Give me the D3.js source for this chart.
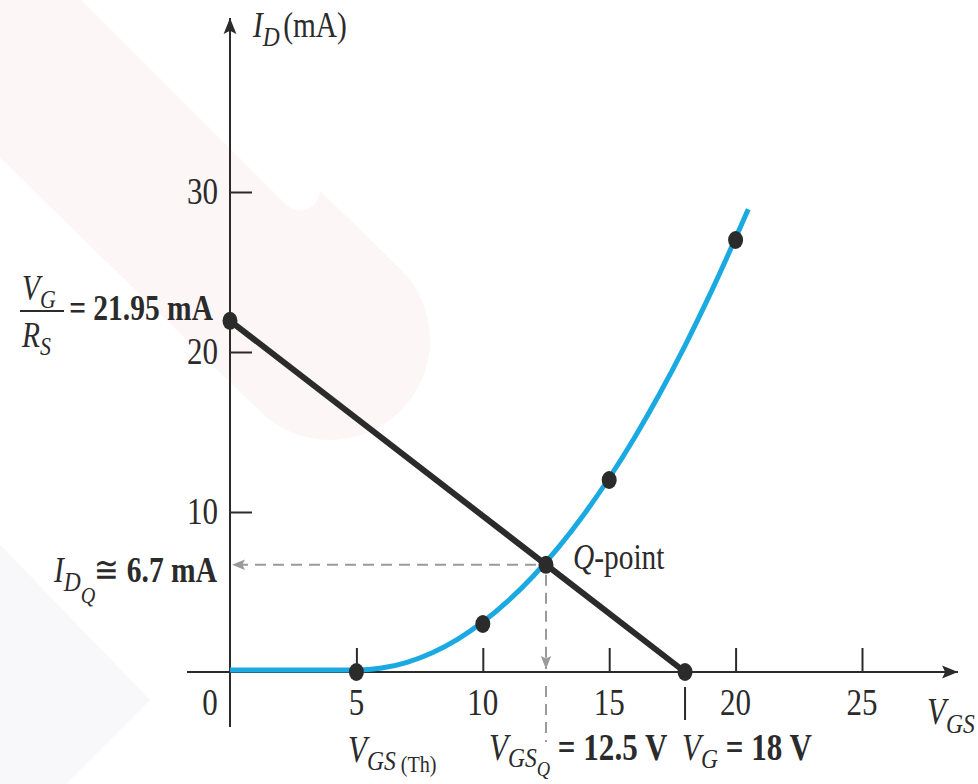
<!DOCTYPE html>
<html>
<head>
<meta charset="utf-8">
<script src="https://cdn.jsdelivr.net/npm/d3@7"></script>
<style>
  html, body { margin: 0; padding: 0; background: #ffffff; }
  svg { display: block; }
  svg text { font-family: 'Liberation Serif', 'DejaVu Serif', serif; fill: #2b2b2b; }
</style>
</head>
<body>
<svg id="chart" width="978" height="784"></svg>
<script>
// Axis ticks
const vgsTicks = [0, 5, 10, 15, 20, 25];
const idTicks = [10, 20, 30];

// JFET transfer characteristic (V_GS in volts, I_D in mA)
const transferVgs = [0, 5, 6, 7, 8, 9, 10, 11, 12, 13, 14, 15, 16, 17, 18, 19, 20, 20.5];
const transferId = [0, 0, 0.12, 0.48, 1.08, 1.92, 3.0, 4.32, 5.88, 7.68, 9.72, 12.0, 14.52, 17.28, 20.28, 23.52, 27.0, 28.8];

// Plotted points on the transfer curve
const dotVgs = [5, 10, 15, 20];
const dotId = [0, 3.0, 12.0, 27.0];

// Bias line endpoints: I_D = V_G/R_S at V_GS = 0, and V_GS = V_G at I_D = 0
const biasVgs = [0, 18];
const biasId = [21.95, 0];

// Operating point
const qVgs = 12.5;
const qId = 6.7;

const svg = d3.select("#chart");
const x = d3.scaleLinear().domain([0, 25]).range([230, 862]);
const y = d3.scaleLinear().domain([0, 30]).range([672, 192]);

const ink = "#2b2b2b";
const blue = "#1aa9e1";
const dashGrey = "#9a9a9a";
const serif = "'Liberation Serif', 'DejaVu Serif', serif";

// faint background wash
const bg = svg.append("g");
bg.append("path")
  .attr("d", "M-60,-40 L330,340")
  .attr("stroke", "#fdf6f6").attr("stroke-width", 200)
  .attr("stroke-linecap", "round").attr("fill", "none");
bg.append("path")
  .attr("d", "M70,-40 L300,190")
  .attr("stroke", "#ffffff").attr("stroke-width", 40)
  .attr("stroke-linecap", "round").attr("fill", "none");
bg.append("path")
  .attr("d", "M-120,420 L150,700 L-60,910 Z")
  .attr("fill", "#f8f8fa");

// rich text helper: parts with italic/bold/size/vertical shift
function rich(px, py, parts, opts = {}) {
  const size = opts.size || 34;
  const sx = opts.sx || 0.84;
  const t = svg.append("text")
    .attr("transform", `translate(${px},${py}) scale(${sx},1)`)
    .attr("text-anchor", opts.anchor || "start")
    .attr("font-family", serif)
    .attr("font-size", size);
  let cur = 0;
  parts.forEach(p => {
    const shift = p.dy || 0;
    t.append("tspan")
      .attr("dy", shift - cur)
      .attr("font-size", p.size || size)
      .attr("font-style", p.it ? "italic" : "normal")
      .attr("font-weight", p.b ? "bold" : "normal")
      .attr("dx", p.dx || 0)
      .text(p.t);
    cur = shift;
  });
  return t;
}

// arrowheads
const defs = svg.append("defs");
defs.append("marker").attr("id", "axisArrow")
  .attr("viewBox", "0 0 10 10").attr("refX", 10).attr("refY", 5)
  .attr("markerWidth", 16).attr("markerHeight", 16).attr("markerUnits", "userSpaceOnUse")
  .attr("orient", "auto")
  .append("path").attr("d", "M0,1 L10,5 L0,9 L2,5 Z").attr("fill", ink);
defs.append("marker").attr("id", "dashArrow")
  .attr("viewBox", "0 0 10 10").attr("refX", 10).attr("refY", 5)
  .attr("markerWidth", 13).attr("markerHeight", 13).attr("markerUnits", "userSpaceOnUse")
  .attr("orient", "auto")
  .append("path").attr("d", "M0,1 L10,5 L0,9 L2,5 Z").attr("fill", dashGrey);

// axes lines with arrows
svg.append("line")
  .attr("x1", x(0)).attr("y1", y(0) + 55).attr("x2", x(0)).attr("y2", 18)
  .attr("stroke", ink).attr("stroke-width", 2).attr("marker-end", "url(#axisArrow)");
svg.append("line")
  .attr("x1", x(0) - 43).attr("y1", y(0)).attr("x2", 958).attr("y2", y(0))
  .attr("stroke", ink).attr("stroke-width", 2).attr("marker-end", "url(#axisArrow)");

// y ticks (to the right of axis) via d3 axis
const yAxis = svg.append("g")
  .attr("transform", `translate(${x(0)},0)`)
  .call(d3.axisRight(y).tickValues(idTicks).tickSize(22).tickFormat(""));
yAxis.select(".domain").remove();
yAxis.selectAll(".tick line").attr("stroke", ink).attr("stroke-width", 2);

// x ticks (above the axis)
const xAxis = svg.append("g")
  .attr("transform", `translate(0,${y(0)})`)
  .call(d3.axisTop(x).tickValues(vgsTicks.filter(v => v > 0)).tickSize(24).tickFormat(""));
xAxis.select(".domain").remove();
xAxis.selectAll(".tick line").attr("stroke", ink).attr("stroke-width", 2);

// tick labels
idTicks.forEach(v => rich(x(0) - 12, y(v) + 12, [{ t: String(v) }], { anchor: "end", size: 37 }));
vgsTicks.forEach(v => rich(x(v) + (v === 0 ? -20 : 0), y(0) + 43, [{ t: String(v) }], { anchor: "middle", size: 37 }));

// V_G marker tick below the axis
svg.append("line")
  .attr("x1", x(biasVgs[1])).attr("x2", x(biasVgs[1]))
  .attr("y1", y(0) + 15).attr("y2", y(0) + 48)
  .attr("stroke", ink).attr("stroke-width", 2);

// dashed projections from the Q-point
svg.append("line")
  .attr("x1", x(qVgs) - 10).attr("y1", y(qId)).attr("x2", x(0) + 2).attr("y2", y(qId))
  .attr("stroke", dashGrey).attr("stroke-width", 2).attr("stroke-dasharray", "11,7")
  .attr("marker-end", "url(#dashArrow)");
svg.append("line")
  .attr("x1", x(qVgs)).attr("y1", y(qId) + 10).attr("x2", x(qVgs)).attr("y2", y(0) - 3)
  .attr("stroke", dashGrey).attr("stroke-width", 2).attr("stroke-dasharray", "11,7")
  .attr("marker-end", "url(#dashArrow)");
svg.append("line")
  .attr("x1", x(qVgs)).attr("y1", y(0) + 14).attr("x2", x(qVgs)).attr("y2", y(0) + 70)
  .attr("stroke", dashGrey).attr("stroke-width", 2).attr("stroke-dasharray", "11,7");

// transfer curve
const curve = d3.line()
  .x((d, i) => x(transferVgs[i]))
  .y((d, i) => y(transferId[i]) - 2)
  .curve(d3.curveMonotoneX);
svg.append("path")
  .datum(transferId)
  .attr("d", curve)
  .attr("fill", "none").attr("stroke", blue).attr("stroke-width", 5);

// bias line
svg.append("line")
  .attr("x1", x(biasVgs[0])).attr("y1", y(biasId[0]))
  .attr("x2", x(biasVgs[1])).attr("y2", y(biasId[1]))
  .attr("stroke", ink).attr("stroke-width", 6);

// dots
const dots = dotVgs.map((v, i) => [v, dotId[i]])
  .concat(biasVgs.map((v, i) => [v, biasId[i]]))
  .concat([[qVgs, qId]]);
svg.selectAll("ellipse.pt").data(dots).enter().append("ellipse")
  .attr("class", "pt")
  .attr("cx", d => x(d[0])).attr("cy", d => y(d[1]))
  .attr("rx", 7.5).attr("ry", 9)
  .attr("fill", ink);

// axis titles
rich(253, 37, [{ t: "I", it: true }, { t: "D", it: true, dy: 9, size: 28 }, { t: "(mA)", dy: 0, dx: 4 }], { size: 35 });
rich(927, 724, [{ t: "V", it: true }, { t: "GS", it: true, dy: 9, size: 28 }], { size: 37 });

// V_G / R_S = 21.95 mA
rich(22, 300, [{ t: "V", it: true }, { t: "G", it: true, dy: 8, size: 26 }], { size: 35 });
svg.append("line").attr("x1", 20).attr("x2", 64).attr("y1", 311).attr("y2", 311)
  .attr("stroke", ink).attr("stroke-width", 2);
rich(22, 347, [{ t: "R", it: true }, { t: "S", it: true, dy: 8, size: 26 }], { size: 35 });
rich(213, 320, [{ t: "= ", b: true }, { t: "21.95 mA", b: true }], { anchor: "end", size: 36, sx: 0.82 });

// I_DQ ≅ 6.7 mA
rich(54, 582, [{ t: "I", it: true }, { t: "D", it: true, dy: 9, size: 28 }, { t: "Q", it: true, dy: 21, size: 24 }], { size: 35 });
rich(217, 582, [{ t: "≅ " }, { t: "6.7 mA", b: true }], { anchor: "end", size: 36, sx: 0.82 });

// Q-point label
rich(573, 569, [{ t: "Q", it: true }, { t: "-point" }], { size: 35 });

// bottom annotations
rich(348, 762, [{ t: "V", it: true }, { t: "GS", it: true, dy: 8, size: 28 }, { t: " (Th)", dy: 10, size: 24 }], { size: 37 });
rich(489, 760, [{ t: "V", it: true }, { t: "GS", it: true, dy: 7, size: 28 }, { t: "Q", it: true, dy: 16, size: 22 },
  { t: " = ", dy: 0, b: true }, { t: "12.5 V", b: true }], { size: 37 });
rich(682, 760, [{ t: "V", it: true }, { t: "G", it: true, dy: 8, size: 28 }, { t: " = ", dy: 0, b: true }, { t: "18 V", b: true }], { size: 37 });
</script>
</body>
</html>
